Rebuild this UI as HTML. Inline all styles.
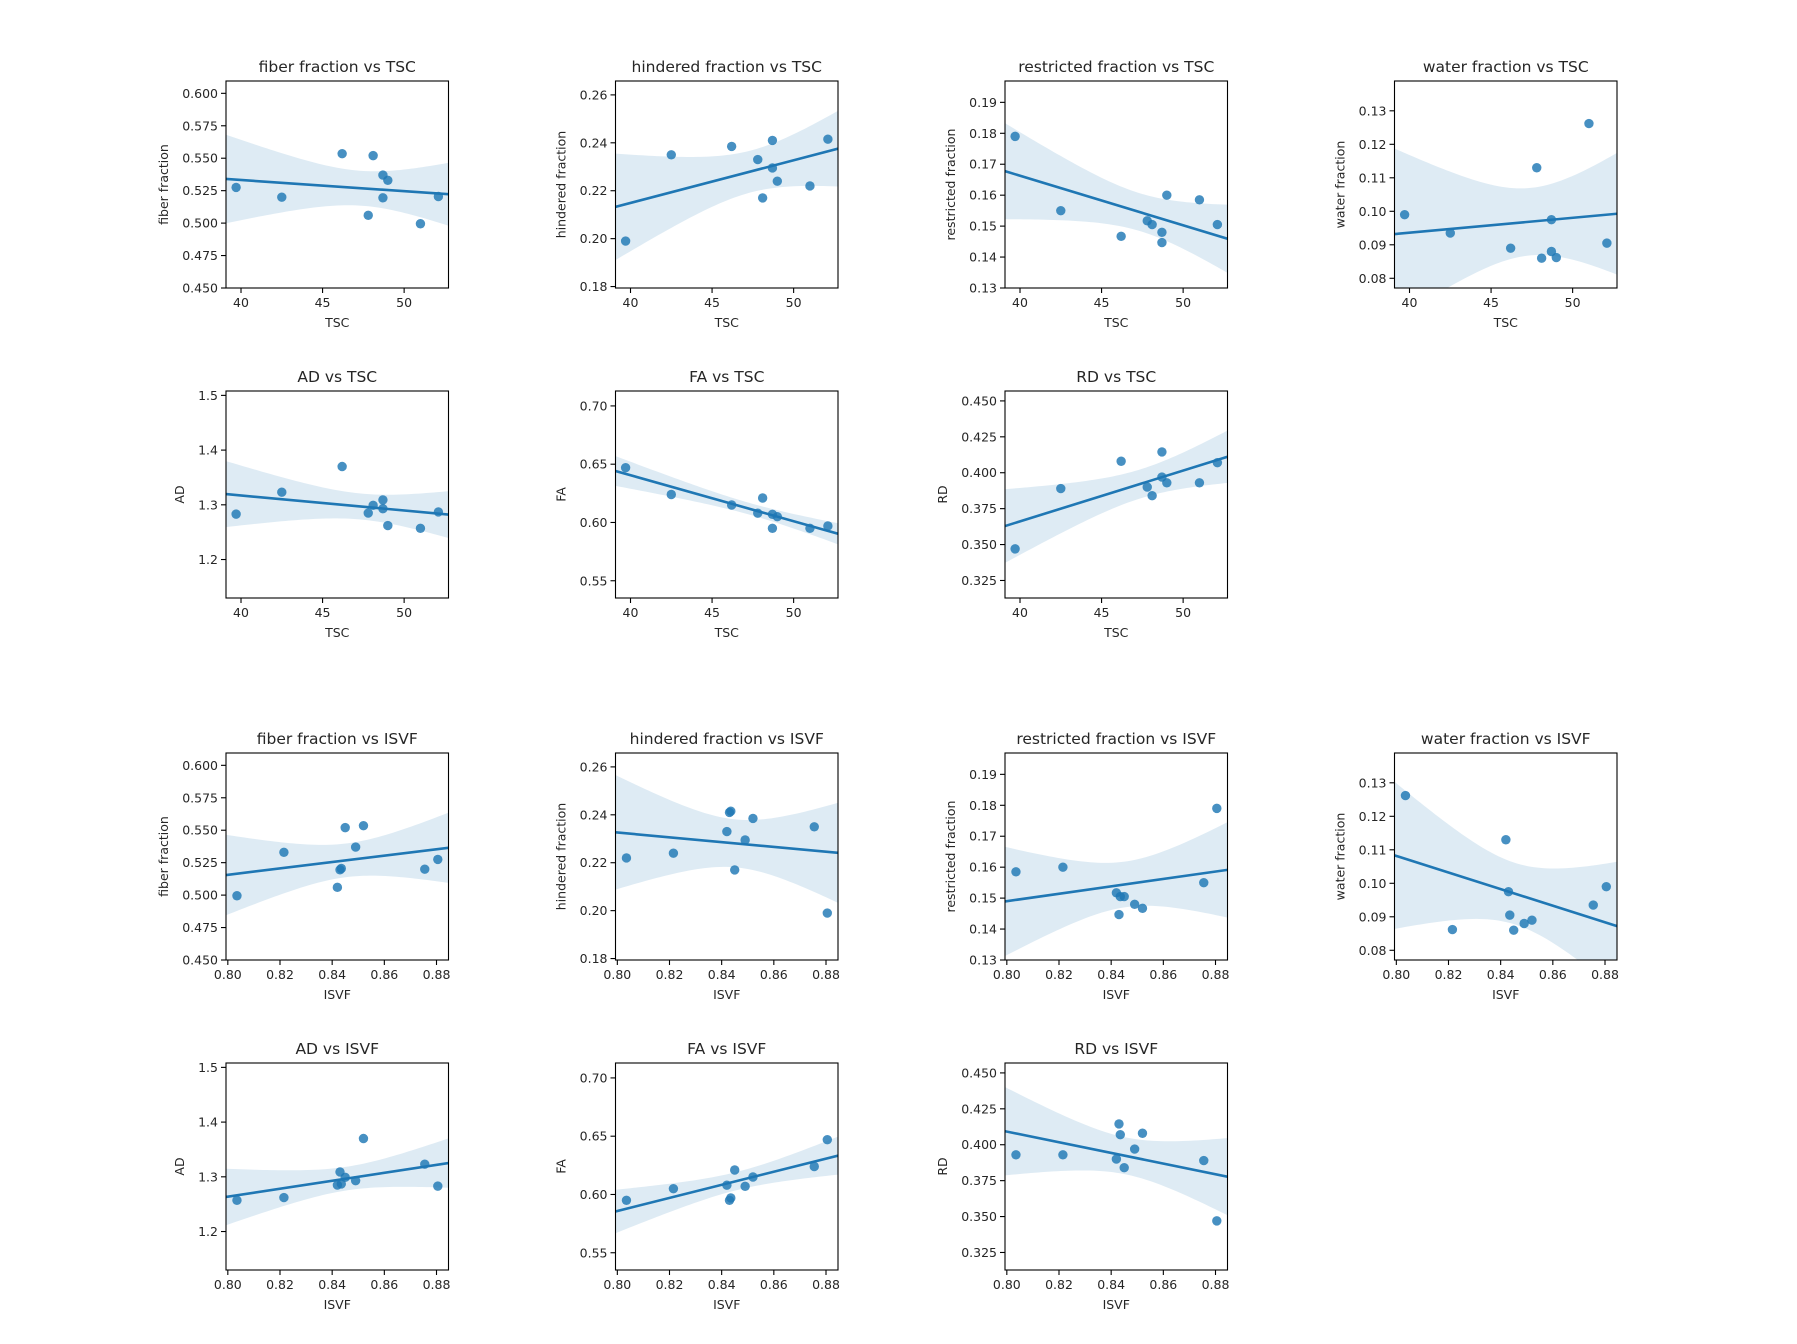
<!DOCTYPE html>
<html><head><meta charset="utf-8">
<style>
html,body{margin:0;padding:0;background:#fff;}
svg{display:block;font-family:"DejaVu Sans","Liberation Sans",sans-serif;}
</style></head>
<body>
<svg id="fig" width="1797" height="1344" viewBox="0 0 1797 1344" xmlns="http://www.w3.org/2000/svg"></svg>
<script>
// subjects (same order in every array)
const tscValues=[39.7,42.5,46.2,47.8,48.1,48.7,48.7,49.0,51.0,52.1];
const isvfValues=[0.8805,0.8755,0.852,0.842,0.845,0.843,0.849,0.8215,0.8035,0.8435];
const fiberValues=[0.5275,0.520,0.5535,0.506,0.552,0.5195,0.537,0.533,0.4995,0.5205];
const hinderedValues=[0.199,0.235,0.2385,0.233,0.217,0.241,0.2295,0.224,0.222,0.2415];
const restrictedValues=[0.179,0.155,0.1467,0.1517,0.1505,0.1447,0.148,0.160,0.1585,0.1505];
const waterValues=[0.099,0.0935,0.089,0.113,0.086,0.0975,0.088,0.0862,0.1262,0.0905];
const adValues=[1.283,1.323,1.370,1.285,1.299,1.309,1.293,1.262,1.257,1.287];
const faValues=[0.647,0.624,0.615,0.608,0.621,0.595,0.607,0.605,0.595,0.597];
const rdValues=[0.347,0.389,0.408,0.390,0.384,0.4145,0.397,0.393,0.393,0.407];
// tick labels
const tscTicks=[40,45,50];
const isvfTicks=[0.80,0.82,0.84,0.86,0.88];
const fiberTicks=[0.450,0.475,0.500,0.525,0.550,0.575,0.600];
const hinderedTicks=[0.18,0.20,0.22,0.24,0.26];
const restrictedTicks=[0.13,0.14,0.15,0.16,0.17,0.18,0.19];
const waterTicks=[0.08,0.09,0.10,0.11,0.12,0.13];
const adTicks=[1.2,1.3,1.4,1.5];
const faTicks=[0.55,0.60,0.65,0.70];
const rdTicks=[0.325,0.350,0.375,0.400,0.425,0.450];

const NS="http://www.w3.org/2000/svg";
const svg=document.getElementById('fig');
function mk(tag,attrs,parent){const e=document.createElementNS(NS,tag);for(const k in attrs)e.setAttribute(k,attrs[k]);(parent||svg).appendChild(e);return e;}

const metrics=[
 {key:'fiber',label:'fiber fraction',vals:fiberValues,ticks:fiberTicks,dec:3,lim:[0.45,0.6095]},
 {key:'hindered',label:'hindered fraction',vals:hinderedValues,ticks:hinderedTicks,dec:2,lim:[0.1794,0.2658]},
 {key:'restricted',label:'restricted fraction',vals:restrictedValues,ticks:restrictedTicks,dec:2,lim:[0.13,0.1969]},
 {key:'water',label:'water fraction',vals:waterValues,ticks:waterTicks,dec:2,lim:[0.0771,0.1389]},
 {key:'ad',label:'AD',vals:adValues,ticks:adTicks,dec:1,lim:[1.1297,1.508]},
 {key:'fa',label:'FA',vals:faValues,ticks:faTicks,dec:2,lim:[0.5352,0.7128]},
 {key:'rd',label:'RD',vals:rdValues,ticks:rdTicks,dec:3,lim:[0.3128,0.4569]}
];
const xvars=[
 {key:'tsc',label:'TSC',vals:tscValues,ticks:tscTicks,dec:0,lim:[39.08,52.72]},
 {key:'isvf',label:'ISVF',vals:isvfValues,ticks:isvfTicks,dec:2,lim:[0.7993,0.8846]}
];
const colX=[226,615.5,1005,1394.5], rowY=[81,391,753,1063], W=222.5, H=207;
const blue='#1f77b4';
const FS=12.5;

function charW(s){let w=0;for(const c of s){w+= (c==='.')?0.318*FS:0.636*FS;}return w;}

let clipId=0;
xvars.forEach((xv,xi)=>{
 metrics.forEach((m,mi)=>{
  const row=xi*2+(mi<4?0:1), col=mi<4?mi:mi-4;
  const L=colX[col], T=rowY[row];
  const sx=v=>L+(v-xv.lim[0])/(xv.lim[1]-xv.lim[0])*W;
  const sy=v=>T+H-(v-m.lim[0])/(m.lim[1]-m.lim[0])*H;
  const g=mk('g',{});
  
  
  const cid='clip'+(clipId++);
  const cp=mk('clipPath',{id:cid},g);mk('rect',{x:L,y:T,width:W,height:H},cp);
  const xs=xv.vals, ys=m.vals, n=xs.length;
  const xm=xs.reduce((a,b)=>a+b)/n, ym=ys.reduce((a,b)=>a+b)/n;
  let sxx=0,sxy=0;for(let i=0;i<n;i++){sxx+=(xs[i]-xm)**2;sxy+=(xs[i]-xm)*(ys[i]-ym);}
  const b=sxy/sxx,a=ym-b*xm;
  let sse=0;for(let i=0;i<n;i++)sse+=(ys[i]-a-b*xs[i])**2;
  const s=Math.sqrt(sse/(n-2)), t=2.306;
  const up=[],lo=[];
  for(let k=0;k<=60;k++){const x=xv.lim[0]+(xv.lim[1]-xv.lim[0])*k/60;const yh=a+b*x;const se=s*Math.sqrt(1/n+(x-xm)**2/sxx);up.push(sx(x).toFixed(2)+','+sy(yh+t*se).toFixed(2));lo.unshift(sx(x).toFixed(2)+','+sy(yh-t*se).toFixed(2));}
  const band=mk('polygon',{points:up.concat(lo).join(' '),fill:blue,'fill-opacity':0.15,stroke:'none','clip-path':'url(#'+cid+')'},g);
  
  
  const ln=mk('line',{x1:sx(xv.lim[0]),y1:sy(a+b*xv.lim[0]),x2:sx(xv.lim[1]),y2:sy(a+b*xv.lim[1]),stroke:blue,'stroke-width':2.6,'clip-path':'url(#'+cid+')'},g);
  
  
  for(let i=0;i<n;i++){
   const p=mk('circle',{cx:sx(xs[i]),cy:sy(ys[i]),r:4.7,fill:blue,'fill-opacity':0.82},g);
   
   
  }
  const fr=mk('rect',{x:L,y:T,width:W,height:H,fill:'none',stroke:'#000','stroke-width':1.1},g);
  
  
  xv.ticks.forEach(v=>{
   const x=sx(v);
   mk('line',{x1:x,y1:T+H,x2:x,y2:T+H+5,stroke:'#000','stroke-width':1.1},g);
   const tx=mk('text',{x:x,y:T+H+19,'font-size':FS,'text-anchor':'middle',fill:'#262626'},g);
   tx.textContent=v.toFixed(xv.dec);
   
   
  });
  let maxw=0;
  m.ticks.forEach(v=>{
   const y=sy(v);
   mk('line',{x1:L-5,y1:y,x2:L,y2:y,stroke:'#000','stroke-width':1.1},g);
   const s2=v.toFixed(m.dec);maxw=Math.max(maxw,charW(s2));
   const ty=mk('text',{x:L-8,y:y+4.5,'font-size':FS,'text-anchor':'end',fill:'#262626'},g);
   ty.textContent=s2;
   
   
  });
  const xl=mk('text',{x:L+W/2,y:T+H+39,'font-size':FS,'text-anchor':'middle',fill:'#262626'},g);
  xl.textContent=xv.label;
  
  
  const yx=L-8-maxw-14, yc=T+H/2;
  const yl=mk('text',{x:yx,y:yc,'font-size':FS,'text-anchor':'middle',fill:'#262626',transform:'rotate(-90 '+yx+' '+yc+')'},g);
  yl.textContent=m.label;
  
  
  const ti=mk('text',{x:L+W/2,y:T-9,'font-size':15.5,'text-anchor':'middle',fill:'#262626'},g);
  ti.textContent=m.label+' vs '+xv.label;
  
  
 });
});
</script>
</body></html>
